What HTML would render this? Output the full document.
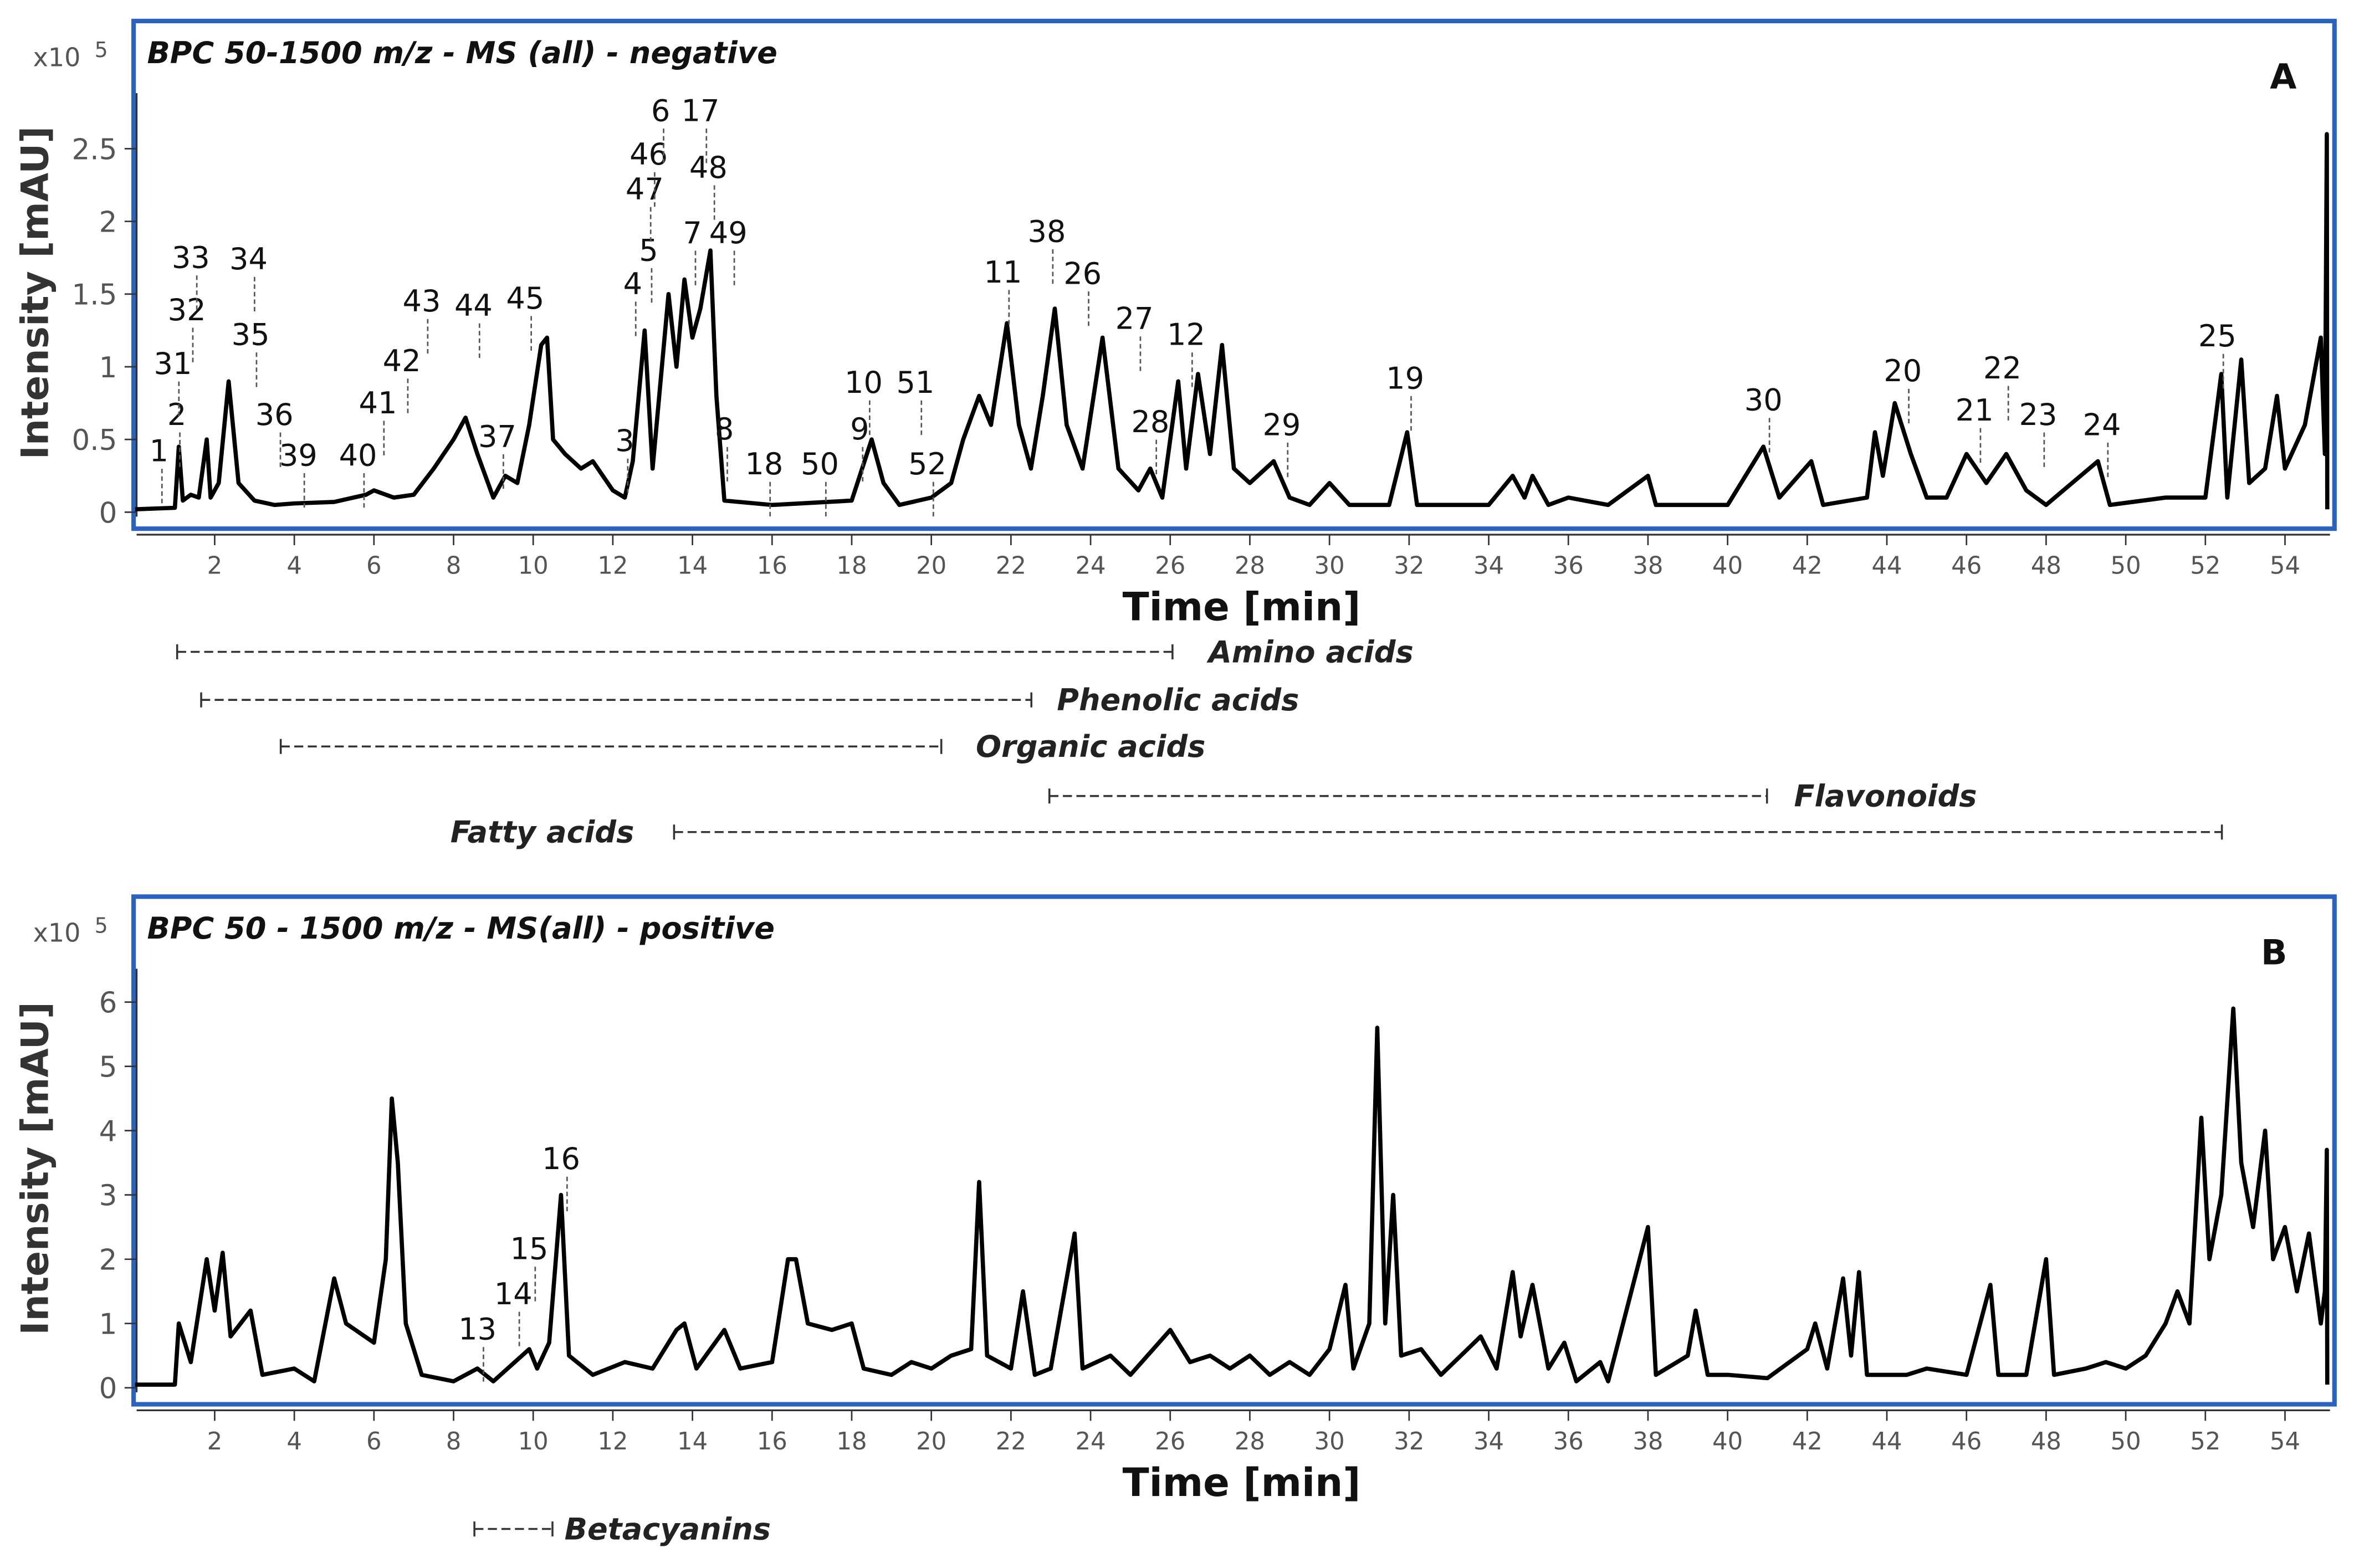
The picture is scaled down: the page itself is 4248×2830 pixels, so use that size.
<!DOCTYPE html>
<html><head><meta charset="utf-8"><style>
html,body{margin:0;padding:0;background:#fff;}
svg{display:block;}
text{font-family:"DejaVu Sans","Liberation Sans",sans-serif;}
</style></head><body>
<svg id="chart" width="4248" height="2830" viewBox="0 0 1568 1044" preserveAspectRatio="none" xmlns="http://www.w3.org/2000/svg">
<g id="gA"></g>
<g id="gB"></g>
<g id="gR"></g>
</svg>
<script>
// ---- data ----
const timeA = [0,1.0,1.1,1.2,1.4,1.6,1.8,1.9,2.1,2.35,2.6,3,3.5,4,5,5.8,6,6.5,7,7.5,8,8.3,8.6,9,9.3,9.6,9.9,10.2,10.35,10.5,10.8,11.2,11.5,12,12.3,12.5,12.8,13,13.2,13.4,13.6,13.8,14.0,14.2,14.45,14.6,14.8,16,18,18.5,18.8,19.2,20,20.5,20.8,21.2,21.5,21.9,22.2,22.5,22.8,23.1,23.4,23.8,24.3,24.7,25.2,25.5,25.8,26.2,26.4,26.7,27,27.3,27.6,28,28.6,29,29.5,30,30.5,31.5,31.95,32.2,34,34.6,34.9,35.1,35.5,36,37,38,38.2,40,40.9,41.3,42.1,42.4,43.5,43.7,43.9,44.2,44.6,45,45.5,46,46.5,47,47.5,48,49.3,49.6,51,52,52.4,52.55,52.9,53.1,53.5,53.8,54,54.5,54.9,55,55.05,55.06];
const valsA = [0.02,0.03,0.45,0.08,0.12,0.1,0.5,0.1,0.2,0.9,0.2,0.08,0.05,0.06,0.07,0.12,0.15,0.1,0.12,0.3,0.5,0.65,0.4,0.1,0.25,0.2,0.6,1.15,1.2,0.5,0.4,0.3,0.35,0.15,0.1,0.35,1.25,0.3,0.9,1.5,1.0,1.6,1.2,1.4,1.8,0.8,0.08,0.05,0.08,0.5,0.2,0.05,0.1,0.2,0.5,0.8,0.6,1.3,0.6,0.3,0.8,1.4,0.6,0.3,1.2,0.3,0.15,0.3,0.1,0.9,0.3,0.95,0.4,1.15,0.3,0.2,0.35,0.1,0.05,0.2,0.05,0.05,0.55,0.05,0.05,0.25,0.1,0.25,0.05,0.1,0.05,0.25,0.05,0.05,0.45,0.1,0.35,0.05,0.1,0.55,0.25,0.75,0.4,0.1,0.1,0.4,0.2,0.4,0.15,0.05,0.35,0.05,0.1,0.1,0.95,0.1,1.05,0.2,0.3,0.8,0.3,0.6,1.2,0.4,2.6,0.02];
const timeB = [0,1,1.1,1.4,1.8,2.0,2.2,2.4,2.9,3.2,4,4.5,5.0,5.3,6,6.3,6.45,6.6,6.8,7.2,8,8.6,9,9.9,10.1,10.4,10.7,10.9,11.5,12.3,13,13.6,13.8,14.1,14.8,15.2,16,16.4,16.6,16.9,17.5,18,18.3,19,19.5,20,20.5,21,21.2,21.4,22,22.3,22.6,23,23.6,23.8,24.5,25,26,26.5,27,27.5,28,28.5,29,29.5,30,30.4,30.6,31.0,31.2,31.4,31.6,31.8,32.3,32.8,33.3,33.8,34.2,34.6,34.8,35.1,35.5,35.9,36.2,36.8,37,38,38.2,39,39.2,39.5,40,41,42,42.2,42.5,42.9,43.1,43.3,43.5,44.5,45,46,46.6,46.8,47.5,48,48.2,49,49.5,50,50.5,51,51.3,51.6,51.9,52.1,52.4,52.7,52.9,53.2,53.5,53.7,54,54.3,54.6,54.9,55,55.05,55.06];
const valsB = [0.05,0.05,1.0,0.4,2.0,1.2,2.1,0.8,1.2,0.2,0.3,0.1,1.7,1.0,0.7,2.0,4.5,3.5,1.0,0.2,0.1,0.3,0.1,0.6,0.3,0.7,3.0,0.5,0.2,0.4,0.3,0.9,1.0,0.3,0.9,0.3,0.4,2.0,2.0,1.0,0.9,1.0,0.3,0.2,0.4,0.3,0.5,0.6,3.2,0.5,0.3,1.5,0.2,0.3,2.4,0.3,0.5,0.2,0.9,0.4,0.5,0.3,0.5,0.2,0.4,0.2,0.6,1.6,0.3,1.0,5.6,1.0,3.0,0.5,0.6,0.2,0.5,0.8,0.3,1.8,0.8,1.6,0.3,0.7,0.1,0.4,0.1,2.5,0.2,0.5,1.2,0.2,0.2,0.15,0.6,1.0,0.3,1.7,0.5,1.8,0.2,0.2,0.3,0.2,1.6,0.2,0.2,2.0,0.2,0.3,0.4,0.3,0.5,1.0,1.5,1.0,4.2,2.0,3.0,5.9,3.5,2.5,4.0,2.0,2.5,1.5,2.4,1.0,1.5,3.7,0.05];
const xTicks = [2,4,6,8,10,12,14,16,18,20,22,24,26,28,30,32,34,36,38,40,42,44,46,48,50,52,54];
const yTicksA = [0,0.5,1,1.5,2,2.5];
const yTicksB = [0,1,2,3,4,5,6];
const peaksA = [["1",0.6,0.35],["2",1.05,0.6],["31",0.95,0.95],["32",1.3,1.32],["33",1.4,1.68],["34",2.85,1.67],["35",2.9,1.15],["36",3.5,0.6],["39",4.1,0.32],["40",5.6,0.32],["41",6.1,0.68],["42",6.7,0.97],["43",7.2,1.38],["44",8.5,1.35],["45",9.8,1.4],["37",9.1,0.45],["3",12.3,0.42],["4",12.5,1.5],["5",12.9,1.73],["47",12.8,2.15],["46",12.9,2.39],["6",13.2,2.69],["17",14.2,2.69],["48",14.4,2.3],["7",14.0,1.85],["49",14.9,1.85],["8",14.8,0.5],["18",15.8,0.26],["50",17.2,0.26],["52",19.9,0.26],["9",18.2,0.5],["10",18.3,0.82],["51",19.6,0.82],["11",21.8,1.58],["38",22.9,1.86],["26",23.8,1.57],["27",25.1,1.26],["28",25.5,0.55],["12",26.4,1.15],["29",28.8,0.53],["19",31.9,0.85],["30",40.9,0.7],["20",44.4,0.9],["21",46.2,0.63],["22",46.9,0.92],["23",47.8,0.6],["24",49.4,0.53],["25",52.3,1.14]];
const peaksB = [["13",8.6,0.75],["14",9.5,1.3],["15",9.9,2.0],["16",10.7,3.4]];

const NS="http://www.w3.org/2000/svg";
function el(parent,tag,attrs,txt){const e=document.createElementNS(NS,tag);for(const k in attrs)e.setAttribute(k,attrs[k]);if(txt!==undefined)e.textContent=txt;parent.appendChild(e);return e;}
const xs = t => 143 + (t-2)*26.52;

function panel(g, cfg){
  const {top,bottom,y0,unit,times,vals,yt,title,letter,peaks,ypref} = cfg;
  const ys = v => y0 - v*unit;
  const box = el(g,'rect',{x:89,y:top,width:1466,height:bottom-top,fill:'none',stroke:'#2a62c0','stroke-width':3});
  
  
  const tt = el(g,'text',{x:98,y:top+28,'font-size':20,'font-weight':'bold','font-style':'italic',fill:'#111'},title);
  
  
  const lt = el(g,'text',{x:letter[0],y:top+45,'font-size':23,'font-weight':'bold',fill:'#111'},letter[1]);
  
  
  const sc = el(g,'text',{x:22,y:top+30,'font-size':17,fill:'#555'},'x10');
  
  
  el(g,'text',{x:63,y:top+24,'font-size':14,fill:'#555'},'5');
  const ya = el(g,'line',{x1:91,x2:91,y1:top+48,y2:y0+3,stroke:'#333','stroke-width':1.2});
  
  
  yt.forEach(v=>{
    el(g,'line',{x1:83,x2:91,y1:ys(v),y2:ys(v),stroke:'#333','stroke-width':1});
    const t = el(g,'text',{x:78,y:ys(v)+7,'font-size':19,fill:'#555','text-anchor':'end'},String(v));
    
    
  });
  const yTitle = el(g,'text',{x:0,y:0,'font-size':25,'font-weight':'bold',fill:'#333','text-anchor':'middle',transform:`translate(32,${(top+bottom)/2+12}) rotate(-90)`},'Intensity [mAU]');
  
  
  const xa = el(g,'line',{x1:91,x2:1552,y1:bottom+4,y2:bottom+4,stroke:'#333','stroke-width':1.2});
  
  
  xTicks.forEach(t=>{
    el(g,'line',{x1:xs(t),x2:xs(t),y1:bottom+4,y2:bottom+11,stroke:'#333','stroke-width':1});
    const l = el(g,'text',{x:xs(t),y:bottom+30,'font-size':16,fill:'#555','text-anchor':'middle'},String(t));
    
    
  });
  const xt = el(g,'text',{x:827,y:bottom+61,'font-size':26,'font-weight':'bold',fill:'#111','text-anchor':'middle'},'Time [min]');
  
  
  let d='';
  times.forEach((t,i)=>{d+=(i?'L':'M')+xs(t).toFixed(1)+' '+ys(vals[i]).toFixed(1)+' ';});
  const p = el(g,'path',{d:d,fill:'none',stroke:'#000','stroke-width':2.8,'stroke-linejoin':'round'});
  
  
  peaks.forEach(pk=>{
    const x = xs(pk[1]), y = ys(pk[2]);
    const tx = el(g,'text',{x:x,y:y,'font-size':20,fill:'#111','text-anchor':'middle'},pk[0]);
    
    
    const lx = x + (pk[0].length>1?4:2);
    el(g,'line',{x1:lx,x2:lx,y1:y+5,y2:y+28,stroke:'#555','stroke-width':1,'stroke-dasharray':'3,2'});
  });
}

panel(document.getElementById('gA'),{top:14,bottom:352,y0:341,unit:96.8,times:timeA,vals:valsA,yt:yTicksA,title:'BPC 50-1500 m/z  - MS (all) - negative',letter:[1512,'A'],peaks:peaksA,ypref:'panel-a'});
panel(document.getElementById('gB'),{top:597,bottom:935,y0:924,unit:42.8,times:timeB,vals:valsB,yt:yTicksB,title:'BPC 50 - 1500 m/z - MS(all) - positive',letter:[1506,'B'],peaks:peaksB,ypref:'panel-b'});

const gR = document.getElementById('gR');
function range(x1,x2,y,label,lx,name){
  const line = el(gR,'line',{x1:x1,x2:x2,y1:y,y2:y,stroke:'#333','stroke-width':1.3,'stroke-dasharray':'6,3'});
  
  
  el(gR,'line',{x1:x1,x2:x1,y1:y-5,y2:y+5,stroke:'#333','stroke-width':1.3});
  el(gR,'line',{x1:x2,x2:x2,y1:y-5,y2:y+5,stroke:'#333','stroke-width':1.3});
  const t = el(gR,'text',{x:lx,y:y+7,'font-size':20,'font-weight':'bold','font-style':'italic',fill:'#222'},label);
  
  
}
range(118,781,434,'Amino acids',805,'amino-acids');
range(134,687,466,'Phenolic acids',704,'phenolic-acids');
range(187,627,497,'Organic acids',650,'organic-acids');
range(699,1177,530,'Flavonoids',1195,'flavonoids');
range(449,1480,554,'Fatty acids',300,'fatty-acids');
range(316,368,1018,'Betacyanins',376,'betacyanins');
</script>
</body></html>
